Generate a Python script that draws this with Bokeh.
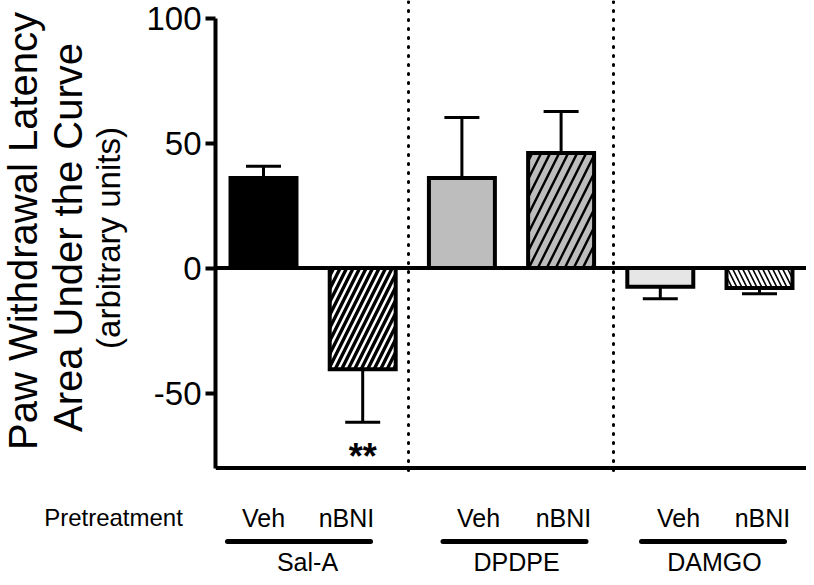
import numpy as np
from bokeh.plotting import figure
from bokeh.layouts import column, row
from bokeh.models import ColumnDataSource, FixedTicker, Range1d
from bokeh.core.properties import value
from bokeh.embed import file_html
from bokeh.resources import INLINE

# ---------------- data ----------------
agonists = ["Sal-A", "DPDPE", "DAMGO"]
pretreatments = ["Veh", "nBNI", "Veh", "nBNI", "Veh", "nBNI"]
auc_mean = [36, -40.5, 36, 46, -7.5, -8]
auc_sem = [4.7, 21.2, 24.2, 16.6, 4.8, 2.3]
significance = ["", "**", "", "", "", ""]
y_ticks = [-50, 0, 50, 100]
y_tick_labels = {-50: "-50", 0: "0", 50: "50", 100: "100"}
y_title = ["Paw Withdrawal Latency", "Area Under the Curve", "(arbitrary units)"]
row_title = "Pretreatment"

# ---------------- styling / layout ----------------
FONT = "Liberation Sans"
fills = ["black", "black", "#bdbdbd", "#bdbdbd", "#e6e6e6", "white"]
hatches = [" ", "/", " ", "/", " ", "\\"]
hatch_colors = ["black", "white", "black", "black", "black", "black"]
hatch_scales = [13, 13, 18, 18, 10, 10]
hatch_weights = [2.5, 2.5, 2.4, 2.4, 1.6, 1.6]

W, H = 806, 577
TOP_H = 478          # height of the plotting row
FRAME_LEFT = 215     # x of the y axis
AXIS_PANEL = 80      # width of the y-axis panel
LEFT_W = FRAME_LEFT - AXIS_PANEL
PX = 99.2            # pixels per bar slot
YPX = 2.5            # pixels per y unit
BAR1 = 263           # pixel x of first bar centre
ZERO = 267.5         # pixel y of zero

def cx(px):
    return 1 + (px - BAR1) / PX

def cy(py):
    return (ZERO - py) / YPX

yr = Range1d(cy(TOP_H), cy(0))

def bare(fig):
    fig.outline_line_color = None
    fig.grid.grid_line_color = None
    fig.background_fill_color = "white"
    fig.border_fill_color = "white"
    return fig

# ---- left: y-axis title ----
left = bare(figure(width=LEFT_W, height=TOP_H, x_range=Range1d(0, LEFT_W), y_range=yr,
                   output_backend="svg", toolbar_location=None,
                   x_axis_location=None, y_axis_location=None,
                   min_border_left=0, min_border_right=0, min_border_top=0, min_border_bottom=0))
left.text(x=[22.5, 67.3], y=[cy(230.5), cy(237)], text=y_title[:2],
          angle=np.pi / 2, text_align="center", text_baseline="middle",
          text_font=value(FONT), text_font_size="40px", text_color="black")
left.text(x=[108], y=[cy(237.5)], text=y_title[2:],
          angle=np.pi / 2, text_align="center", text_baseline="middle",
          text_font=value(FONT), text_font_size="33px", text_color="black")

# ---- main plot ----
xr = Range1d(cx(FRAME_LEFT), cx(W))
p = bare(figure(width=W - LEFT_W, height=TOP_H, x_range=xr, y_range=yr,
                output_backend="svg", toolbar_location=None, x_axis_location=None,
                min_border_left=AXIS_PANEL, min_border_right=0, min_border_top=0,
                min_border_bottom=0))

xpos = np.arange(1, len(auc_mean) + 1)
mean = np.array(auc_mean, dtype=float)
sem = np.array(auc_sem, dtype=float)
ends = mean + np.sign(mean) * sem
cap_half = 17.5 / PX

src = ColumnDataSource(dict(x=xpos, top=mean, fill=fills, hatch=hatches,
                            hcol=hatch_colors, hscale=hatch_scales, hweight=hatch_weights))

p.segment(x0=xpos, y0=mean, x1=xpos, y1=ends, line_color="black", line_width=3)
p.segment(x0=xpos - cap_half, y0=ends, x1=xpos + cap_half, y1=ends,
          line_color="black", line_width=3)

p.vbar(x="x", top="top", bottom=0, width=0.665, source=src,
       fill_color="fill", line_color="black", line_width=4, line_join="miter",
       hatch_pattern="hatch", hatch_color="hcol", hatch_scale="hscale", hatch_weight="hweight")

x_line_end = cx(808)
p.segment(x0=[xr.start, xr.start], y0=[0, -80], x1=[x_line_end, x_line_end], y1=[0, -80],
          line_color="black", line_width=4)

sep_x = [cx(408), cx(613)]
p.segment(x0=sep_x, y0=[cy(1)] * 2, x1=sep_x, y1=[cy(475)] * 2,
          line_color="black", line_width=3, line_dash="1 8", line_cap="round")

p.text(x=xpos, y=[cy(456)] * len(xpos), text=significance, text_align="center",
       text_baseline="middle", text_font=value(FONT), text_font_size="36px",
       text_font_style="bold", text_color="black")

ax = p.yaxis[0]
ax.ticker = FixedTicker(ticks=y_ticks)
ax.major_label_overrides = y_tick_labels
ax.bounds = (-80, 100)
ax.axis_line_width = 4
ax.axis_line_color = "black"
ax.major_tick_line_width = 4
ax.major_tick_line_color = "black"
ax.major_tick_out = 10
ax.major_tick_in = 0
ax.minor_tick_line_color = None
ax.major_label_text_font = FONT
ax.major_label_text_font_size = "33px"
ax.major_label_text_color = "black"
ax.major_label_standoff = 4

# ---- bottom: category labels ----
B_H = H - TOP_H
bot = bare(figure(width=W, height=B_H, x_range=Range1d(cx(0), cx(W)),
                  y_range=Range1d(H, TOP_H), output_backend="svg", toolbar_location=None,
                  x_axis_location=None, y_axis_location=None,
                  min_border_left=0, min_border_right=0, min_border_top=0, min_border_bottom=0))

pre_x = [cx(263), cx(346), cx(478), cx(563), cx(678), cx(762)]
bot.text(x=pre_x, y=[517] * 6, text=pretreatments, text_align="center",
         text_baseline="middle", text_font=value(FONT), text_font_size="25px",
         text_color="black")
bot.text(x=[cx(113)], y=[517], text=[row_title], text_align="center",
         text_baseline="middle", text_font=value(FONT), text_font_size="24px",
         text_color="black")

ul_center = np.array([cx(298.5), cx(514), cx(712.5)])
ul_half = 71.5 / PX
bot.segment(x0=ul_center - ul_half, y0=[541] * 3, x1=ul_center + ul_half, y1=[541] * 3,
            line_color="black", line_width=5, line_cap="round")

ag_x = [cx(307), cx(516), cx(714)]
bot.text(x=ag_x, y=[561] * 3, text=agonists, text_align="center",
         text_baseline="middle", text_font=value(FONT), text_font_size="25px",
         text_color="black")

layout = column(row(left, p, spacing=0), bot, spacing=0)
open("out.html", "w").write(file_html(layout, INLINE))
